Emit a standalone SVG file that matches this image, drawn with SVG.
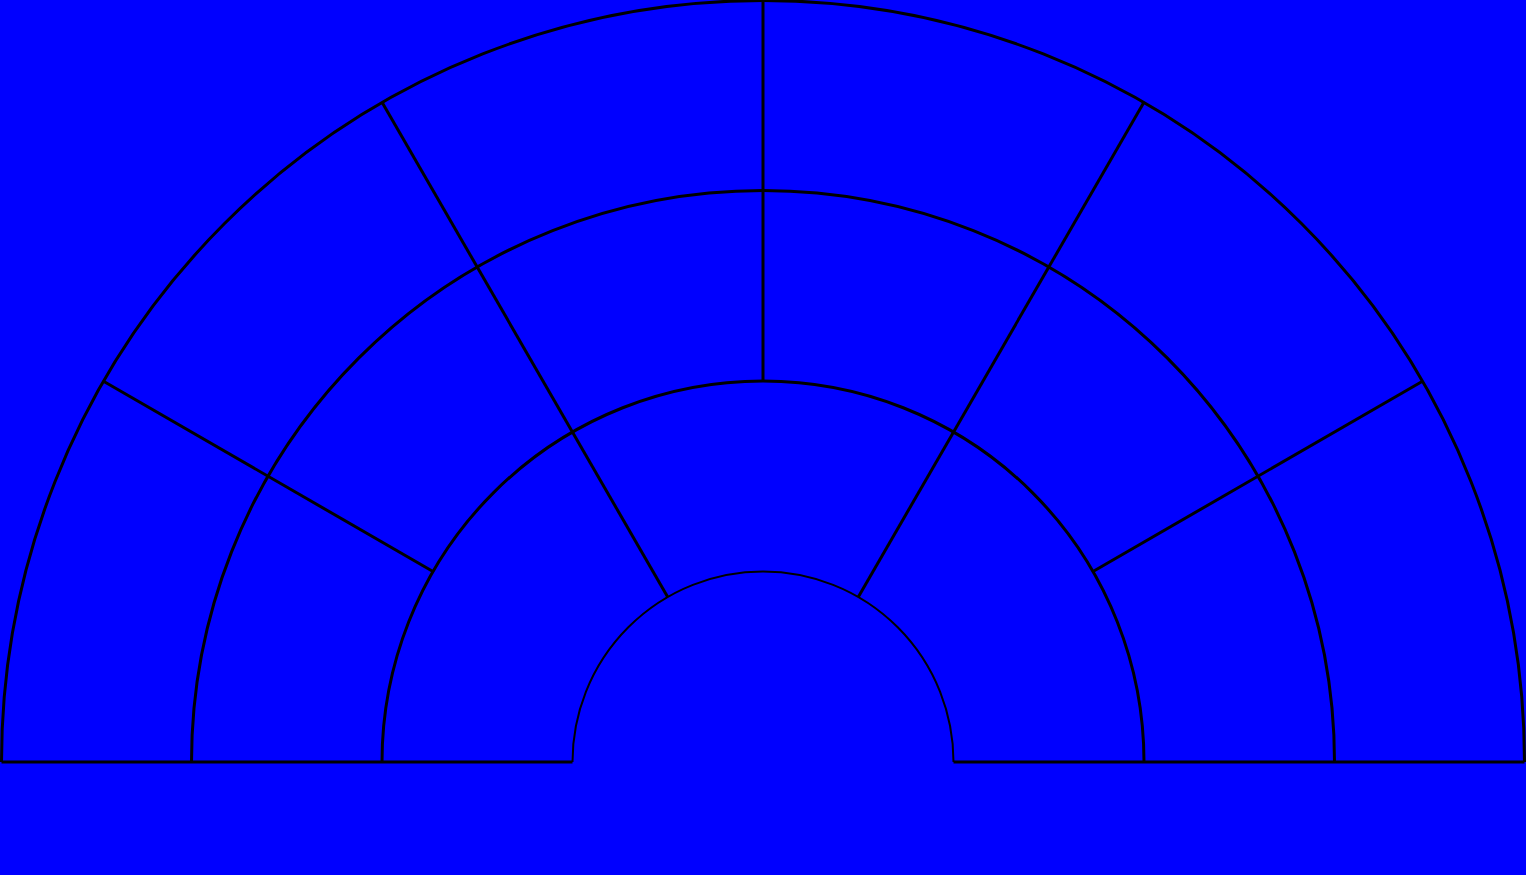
<svg xmlns="http://www.w3.org/2000/svg" width="1526" height="875" viewBox="0 0 1526 875">
<style>
.l{fill:none;stroke:#000;stroke-width:3}
.t{fill:none;stroke:#000;stroke-width:2}
</style>
<rect width="1526" height="875" fill="#0000ff"/>
<g id="rings">
<path class="l" d="M1.5 762 A761.5 761.5 0 0 1 1524.5 762"/>
<path class="l" d="M191.5 762 A571.5 571.5 0 0 1 1334.5 762"/>
<path class="l" d="M382 762 A381 381 0 0 1 1144 762"/>
<path class="t" d="M572.5 762 A190.5 190.5 0 0 1 953.5 762"/>
</g>
<g id="connectors">
<line class="l" x1="1.5" y1="762" x2="572.5" y2="762"/>
<line class="l" x1="953.5" y1="762" x2="1524.5" y2="762"/>
<line class="l" x1="763" y1="0.5" x2="763" y2="381"/>
<line class="l" x1="382.2" y1="102.5" x2="667.7" y2="597"/>
<line class="l" x1="1143.8" y1="102.5" x2="858.3" y2="597"/>
<line class="l" x1="103.5" y1="381.2" x2="433" y2="571.5"/>
<line class="l" x1="1422.5" y1="381.2" x2="1093" y2="571.5"/>
</g>
</svg>
